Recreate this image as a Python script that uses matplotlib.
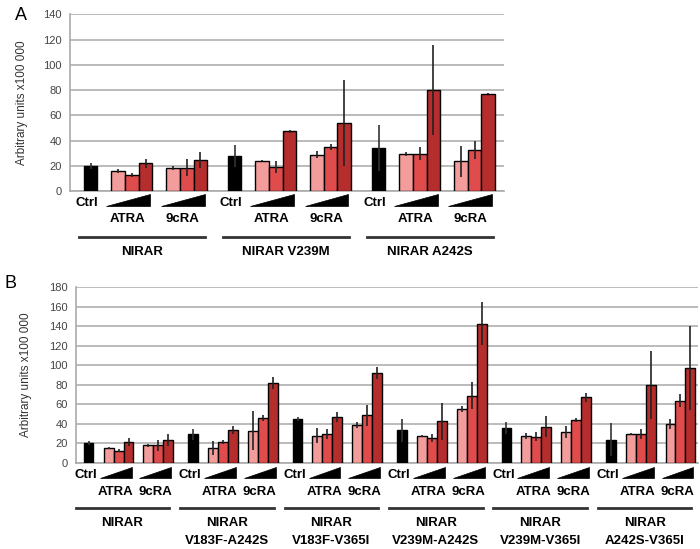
#! /usr/bin/env python3
"""Reporter activity of NIRAR variants after ATRA / 9cRA treatment."""

import matplotlib

matplotlib.use("Agg")
import matplotlib.pyplot as plt
from matplotlib.patches import Polygon
from matplotlib.transforms import blended_transform_factory

plt.rcParams["font.family"] = ["Liberation Sans", "DejaVu Sans"]

# ── data, panel A ──
A_NAMES = ["NIRAR", "NIRAR V239M", "NIRAR A242S"]
A_CTRL = [20.0, 28.0, 34.0]
A_CTRL_ERR = [2.5, 8.7, 18.0]
A_ATRA = [[16.0, 12.7, 22.0], [24.0, 19.0, 47.3], [29.6, 29.6, 79.8]]
A_ATRA_ERR = [[1.5, 1.5, 3.5], [0.5, 4.5, 1.0], [1.5, 5.0, 35.5]]
A_9CRA = [[18.2, 18.5, 24.5], [28.8, 34.9, 53.6], [23.5, 32.5, 77.1]]
A_9CRA_ERR = [[1.8, 6.5, 6.5], [3.0, 2.0, 34.0], [12.0, 7.5, 0.5]]
A_YTICKS = [0, 20, 40, 60, 80, 100, 120, 140]

# ── data, panel B ──
B_NAMES = ["NIRAR", "NIRAR\nV183F-A242S", "NIRAR\nV183F-V365I",
           "NIRAR\nV239M-A242S", "NIRAR\nV239M-V365I", "NIRAR\nA242S-V365I"]
B_CTRL = [20.1, 29.3, 45.0, 33.4, 36.1, 23.9]
B_CTRL_ERR = [2.0, 6.0, 2.5, 12.0, 6.0, 17.0]
B_ATRA = [[15.7, 12.6, 21.5], [15.7, 21.8, 33.7], [28.0, 29.7, 47.4],
          [27.3, 26.0, 42.6], [27.3, 27.0, 37.2], [29.7, 30.0, 79.8]]
B_ATRA_ERR = [[1.0, 1.5, 4.0], [7.0, 2.0, 4.0], [8.0, 5.0, 5.0],
              [1.0, 4.0, 19.0], [3.0, 4.5, 11.0], [1.5, 5.0, 35.0]]
B_9CRA = [[18.0, 18.0, 23.9], [33.0, 46.0, 82.2], [39.2, 48.8, 92.4],
          [55.2, 68.9, 142.5], [31.4, 44.0, 67.2], [39.9, 63.8, 96.8]]
B_9CRA_ERR = [[1.5, 6.0, 6.0], [20.0, 3.0, 6.0], [3.0, 11.0, 6.0],
              [3.5, 13.6, 22.0], [6.0, 2.0, 4.5], [5.0, 7.0, 43.0]]
B_YTICKS = [0, 20, 40, 60, 80, 100, 120, 140, 160, 180]

SHADES = ["#f29c9c", "#e04b4b", "#b52d2d"]
GROUP_STEP = 10.5
H = 549.0  # figure height in px, used for label rows


def fy(px):
    return 1 - px / H


def draw_panel(ax, names, ctrl, ctrl_err, atra, atra_err, cra, cra_err,
               yticks, xlim, rows, line_off):
    for g in range(len(names)):
        base = g * GROUP_STEP
        ax.bar(base, ctrl[g], width=0.95, color="black", edgecolor="black",
               linewidth=1, zorder=3)
        ax.errorbar(base, ctrl[g], yerr=ctrl_err[g], fmt="none",
                    ecolor="#333333", elinewidth=1.2, zorder=4)
        for start, vals, errs in ((2, atra[g], atra_err[g]), (6, cra[g], cra_err[g])):
            xs = [base + start + i for i in range(3)]
            ax.bar(xs, vals, width=1.0, color=SHADES, edgecolor="black",
                   linewidth=1, zorder=3)
            ax.errorbar(xs, vals, yerr=errs, fmt="none", ecolor="#222222",
                        elinewidth=1.2, zorder=4)

    ax.set_xlim(*xlim)
    ax.set_ylim(yticks[0], yticks[-1])
    ax.set_yticks(yticks)
    ax.set_xticks([])
    ax.tick_params(axis="y", length=0, labelsize=8, labelcolor="#444444", pad=6)
    ax.grid(axis="y", color="#b5b5b5", linewidth=1.3, zorder=0)
    for side in ("top", "right"):
        ax.spines[side].set_visible(False)
    for side in ("left", "bottom"):
        ax.spines[side].set_color("#aaaaaa")
        ax.spines[side].set_linewidth(1.2)
    ax.set_ylabel("Arbitrary units x100 000", fontsize=8.5, color="#333333")

    tr = blended_transform_factory(ax.transData, ax.figure.transFigure)
    bold = dict(fontsize=9.5, fontweight="bold", transform=tr, clip_on=False)
    for g, name in enumerate(names):
        base = g * GROUP_STEP
        ax.text(base - 0.3, fy(rows["ctrl"]), "Ctrl", ha="center", va="center", **bold)
        for start, lab in ((2, "ATRA"), (6, "9cRA")):
            x0 = base + start - 0.9
            x1 = base + start + 2.3
            wedge = Polygon([(x0, fy(rows["wedge"][1])), (x1, fy(rows["wedge"][1])),
                             (x1, fy(rows["wedge"][0]))], closed=True,
                            facecolor="black", edgecolor="black", lw=0.5,
                            transform=tr, clip_on=False)
            ax.add_patch(wedge)
            ax.text(base + start + 0.7, fy(rows["label"]), lab, ha="center",
                    va="center", **bold)
        lx0 = base + line_off[0]
        lx1 = base + 8 + line_off[1]
        ax.plot([lx0, lx1], [fy(rows["line"])] * 2, color="#333333", lw=2,
                transform=tr, clip_on=False)
        for i, part in enumerate(name.split("\n")):
            ax.text((lx0 + lx1) / 2, fy(rows["name"] + 18 * i), part,
                    ha="center", va="center", **bold)


fig = plt.figure(figsize=(7.0, 5.49), dpi=100)
ax_a = fig.add_axes([0.1, 0.652, 0.62, 0.322])
ax_b = fig.add_axes([0.1086, 0.1566, 0.889, 0.3206])

draw_panel(ax_a, A_NAMES, A_CTRL, A_CTRL_ERR, A_ATRA, A_ATRA_ERR, A_9CRA,
           A_9CRA_ERR, A_YTICKS, (-1.52, 30.15),
           dict(ctrl=203, wedge=(194.3, 205.7), label=219, line=237, name=252),
           (-0.85, 0.35))
ax_a.yaxis.set_label_coords(-0.097, 0.5)

draw_panel(ax_b, B_NAMES, B_CTRL, B_CTRL_ERR, B_ATRA, B_ATRA_ERR, B_9CRA,
           B_9CRA_ERR, B_YTICKS, (-1.28, 61.3),
           dict(ctrl=475, wedge=(467, 478), label=492, line=507.7, name=523),
           (-1.3, 0.1))
ax_b.yaxis.set_label_coords(-0.071, 0.5)

fig.text(15 / 700, fy(16), "A", fontsize=13, ha="left", va="center")
fig.text(4 / 700, fy(283), "B", fontsize=13, ha="left", va="center")

fig.savefig("out.png", dpi=100)
